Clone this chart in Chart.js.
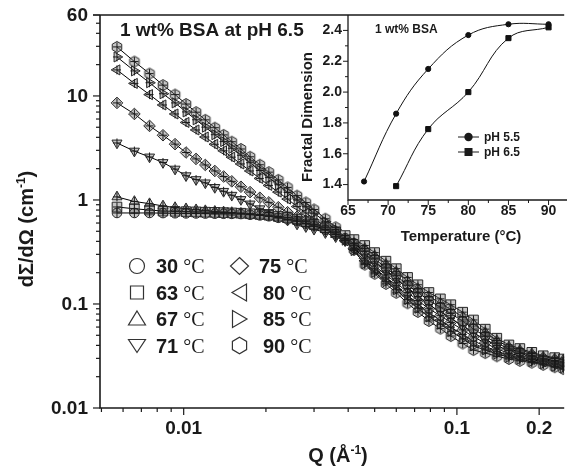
<!DOCTYPE html>
<html>
<head>
<meta charset="utf-8">
<title>SANS of BSA</title>
<script src="https://cdn.jsdelivr.net/npm/chart.js@4.4.1/dist/chart.umd.min.js"></script>
<style>
  html, body { margin: 0; padding: 0; background: #fff; }
  #wrap { position: relative; width: 572px; height: 475px; overflow: hidden; }
  #mainChart { position: absolute; left: 0; top: 0; }
  #insetChart { position: absolute; left: 290px; top: 0; }
</style>
</head>
<body>
<div id="wrap">
  <canvas id="mainChart" width="572" height="475"></canvas>
  <canvas id="insetChart" width="282" height="250"></canvas>
</div>
<script>
// Main plot data: Q (1/A) and dSigma/dOmega (1/cm) for each temperature
const temps = [30, 63, 67, 71, 75, 80, 85, 90];
const qValues = [0.0057, 0.0066, 0.0075, 0.0084, 0.0093, 0.0102, 0.0111, 0.0120, 0.0130, 0.0140,
    0.0150, 0.0162, 0.0175, 0.0190, 0.0205, 0.0222, 0.0240, 0.0260, 0.0280, 0.0300,
    0.0330, 0.0360, 0.0390, 0.0420, 0.0460, 0.0500, 0.0550, 0.0600, 0.0660, 0.0720,
    0.0790, 0.0870, 0.0950, 0.1050, 0.1150, 0.1270, 0.1400, 0.1550, 0.1700, 0.1880,
    0.2070, 0.2280, 0.2450];
const i30 = [0.750, 0.750, 0.750, 0.748, 0.745, 0.743, 0.742, 0.740, 0.738, 0.737,
    0.735, 0.732, 0.721, 0.710, 0.697, 0.674, 0.651, 0.627, 0.592, 0.559,
    0.518, 0.469, 0.428, 0.384, 0.321, 0.271, 0.222, 0.187, 0.152, 0.129,
    0.108, 0.0931, 0.0809, 0.0684, 0.0575, 0.0490, 0.0420, 0.0371, 0.0345, 0.0319,
    0.0298, 0.0286, 0.0277];
const i63 = [0.856, 0.823, 0.800, 0.782, 0.777, 0.772, 0.768, 0.763, 0.760, 0.756,
    0.751, 0.746, 0.737, 0.726, 0.714, 0.694, 0.676, 0.655, 0.618, 0.584,
    0.541, 0.494, 0.455, 0.416, 0.365, 0.312, 0.258, 0.2185, 0.180, 0.153,
    0.129, 0.112, 0.0984, 0.0834, 0.0702, 0.0573, 0.0469, 0.0404, 0.0373, 0.0343,
    0.0318, 0.0305, 0.0296];
const i67 = [1.07, 0.967, 0.921, 0.876, 0.845, 0.823, 0.805, 0.789, 0.777, 0.767,
    0.757, 0.745, 0.729, 0.713, 0.697, 0.674, 0.651, 0.627, 0.592, 0.559,
    0.518, 0.465, 0.421, 0.383, 0.342, 0.292, 0.241, 0.204, 0.166, 0.141,
    0.118, 0.102, 0.0885, 0.0751, 0.0642, 0.0533, 0.0445, 0.0388, 0.0361, 0.0334,
    0.0311, 0.0299, 0.0290];
const i71 = [3.53, 2.95, 2.59, 2.29, 1.98, 1.71, 1.57, 1.46, 1.32, 1.21,
    1.11, 1.01, 0.915, 0.823, 0.758, 0.697, 0.640, 0.587, 0.554, 0.523,
    0.485, 0.443, 0.407, 0.366, 0.301, 0.254, 0.208, 0.175, 0.141, 0.118,
    0.0982, 0.0843, 0.0727, 0.0616, 0.0526, 0.0457, 0.0398, 0.0356, 0.0334, 0.0311,
    0.0291, 0.0279, 0.0271];
const i75 = [8.57, 6.71, 5.15, 4.19, 3.44, 2.86, 2.48, 2.17, 1.90, 1.68,
    1.51, 1.34, 1.19, 1.05, 0.948, 0.851, 0.762, 0.689, 0.630, 0.576,
    0.515, 0.465, 0.408, 0.343, 0.276, 0.232, 0.1905, 0.160, 0.129, 0.108,
    0.0899, 0.0772, 0.0665, 0.0564, 0.0482, 0.0422, 0.0370, 0.0336, 0.0318, 0.0301,
    0.0284, 0.0270, 0.0259];
const i80 = [17.8, 13.2, 10.3, 8.19, 6.71, 5.56, 4.71, 4.03, 3.43, 2.97,
    2.58, 2.22, 1.90, 1.61, 1.38, 1.19, 1.02, 0.864, 0.750, 0.658,
    0.561, 0.484, 0.405, 0.336, 0.260, 0.218, 0.178, 0.150, 0.120, 0.0995,
    0.0821, 0.0699, 0.0598, 0.0509, 0.0441, 0.0393, 0.0351, 0.0323, 0.0308, 0.0293,
    0.0278, 0.0264, 0.0253];
const i85 = [23.7, 17.4, 13.4, 10.5, 8.57, 7.02, 5.90, 5.01, 4.24, 3.64,
    3.14, 2.69, 2.28, 1.92, 1.64, 1.40, 1.18, 1.00, 0.86, 0.746,
    0.617, 0.519, 0.411, 0.326, 0.244, 0.202, 0.164, 0.137, 0.110, 0.0911,
    0.0751, 0.0640, 0.0547, 0.0462, 0.0395, 0.0361, 0.0331, 0.0309, 0.0295, 0.0280,
    0.0266, 0.0252, 0.0243];
const i90 = [29.6, 21.4, 16.4, 12.7, 10.3, 8.36, 6.98, 5.89, 4.95, 4.22,
    3.63, 3.09, 2.60, 2.18, 1.85, 1.56, 1.32, 1.10, 0.946, 0.81,
    0.66, 0.546, 0.424, 0.331, 0.239, 0.195, 0.156, 0.128, 0.1016, 0.0838,
    0.0687, 0.0579, 0.0492, 0.0417, 0.0361, 0.0337, 0.0314, 0.0296, 0.0284, 0.0273,
    0.0260, 0.0247, 0.0237];
const qTicks = [0.01, 0.1, 0.2];
const iTicks = [0.01, 0.1, 1, 10, 60];

// Inset data: fractal dimension vs temperature
const temps55 = [67, 71, 75, 80, 85, 90];
const fd55 = [1.42, 1.86, 2.15, 2.37, 2.44, 2.44];
const temps65 = [71, 75, 80, 85, 90];
const fd65 = [1.39, 1.76, 2.00, 2.35, 2.42];
const tTicks = [65, 70, 75, 80, 85, 90];
const fdTicks = [1.4, 1.6, 1.8, 2.0, 2.2, 2.4];

const SANS = '"Liberation Sans", Arial, sans-serif';
const SERIF = '"Liberation Serif", "Times New Roman", serif';
const MARK_FILL = 'rgba(120,120,120,0.42)';
const MARK_EDGE = '#262626';

// hexagon marker (Chart.js has none)
function hexCanvas(r) {
    const c = document.createElement('canvas');
    const s = Math.ceil(r * 2 + 3);
    c.width = s; c.height = s;
    const g = c.getContext('2d');
    g.beginPath();
    for (let i = 0; i < 6; i++) {
        const a = -Math.PI / 2 + i * Math.PI / 3;
        const px = s / 2 + Math.cos(a) * r, py = s / 2 + Math.sin(a) * r;
        if (i === 0) g.moveTo(px, py); else g.lineTo(px, py);
    }
    g.closePath();
    g.fillStyle = MARK_FILL;
    g.fill();
    g.strokeStyle = MARK_EDGE;
    g.lineWidth = 1;
    g.stroke();
    return c;
}

const markerStyles = [
    { style: 'circle', rot: 0, r: 4.8 },
    { style: 'rect', rot: 0, r: 6.8 },
    { style: 'triangle', rot: 0, r: 5.8 },
    { style: 'triangle', rot: 180, r: 5.8 },
    { style: 'rectRot', rot: 0, r: 5.8 },
    { style: 'triangle', rot: 270, r: 5.8 },
    { style: 'triangle', rot: 90, r: 5.8 },
    { style: hexCanvas(5.5), rot: 0, r: 5 }
];

// write text made of parts (normal + superscript) centered on x
function drawParts(ctx, parts, cx, baseY) {
    let total = 0;
    parts.forEach(p => { ctx.font = p.font; p.w = ctx.measureText(p.text).width; total += p.w; });
    let x = cx - total / 2;
    parts.forEach(p => {
        ctx.font = p.font;
        ctx.fillText(p.text, x, baseY + (p.dy || 0));
        x += p.w;
    });
}

// legend symbol outlines
function legendSymbol(ctx, k, x, y) {
    ctx.beginPath();
    if (k === 0) {
        ctx.arc(x, y, 7.5, 0, Math.PI * 2);
    } else if (k === 1) {
        ctx.rect(x - 6.5, y - 6.5, 13, 13);
    } else {
        let pts;
        if (k === 2) pts = [[0, -8], [8.5, 6], [-8.5, 6]];
        if (k === 3) pts = [[-8.5, -6], [8.5, -6], [0, 7]];
        if (k === 4) pts = [[0, -8.5], [9, 0], [0, 8.5], [-9, 0]];
        if (k === 5) pts = [[-7.5, 0], [7, -8.5], [7, 8.5]];
        if (k === 6) pts = [[7.5, 0], [-7, -8.5], [-7, 8.5]];
        if (k === 7) {
            pts = [];
            for (let i = 0; i < 6; i++) {
                const a = -Math.PI / 2 + i * Math.PI / 3;
                pts.push([Math.cos(a) * 8.2, Math.sin(a) * 8.2]);
            }
        }
        pts.forEach((p, i) => i === 0 ? ctx.moveTo(x + p[0], y + p[1]) : ctx.lineTo(x + p[0], y + p[1]));
        ctx.closePath();
    }
    ctx.stroke();
}

const mainDecor = {
    id: 'mainDecor',
    beforeDraw(chart) {
        const ctx = chart.ctx;
        ctx.save();
        ctx.fillStyle = '#fff';
        ctx.fillRect(0, 0, chart.width, chart.height);
        ctx.restore();
    },
    afterDatasetsDraw(chart) {
        // error-bar crosses on every point
        const { ctx, chartArea: a } = chart;
        ctx.save();
        ctx.beginPath();
        ctx.rect(a.left, a.top, a.right - a.left, a.bottom - a.top);
        ctx.clip();
        ctx.strokeStyle = '#1a1a1a';
        ctx.lineWidth = 1;
        chart.data.datasets.forEach((ds, k) => {
            chart.getDatasetMeta(k).data.forEach(pt => {
                ctx.beginPath();
                ctx.moveTo(pt.x - 4, pt.y); ctx.lineTo(pt.x + 4, pt.y);
                ctx.moveTo(pt.x, pt.y - 4.5); ctx.lineTo(pt.x, pt.y + 4.5);
                ctx.stroke();
            });
        });
        ctx.restore();
    },
    afterDraw(chart) {
        const { ctx, chartArea: a, scales: { x, y } } = chart;
        ctx.save();
        ctx.strokeStyle = '#1a1a1a';
        ctx.fillStyle = '#1a1a1a';
        ctx.lineWidth = 1.6;
        ctx.beginPath();
        ctx.moveTo(a.left, a.top); ctx.lineTo(a.right, a.top);
        ctx.moveTo(a.left, a.top); ctx.lineTo(a.left, a.bottom); ctx.lineTo(a.right, a.bottom);
        ctx.stroke();

        // ticks
        ctx.lineWidth = 1.2;
        for (let d = -3; d <= 1; d++) {
            for (let m = 1; m <= 9; m++) {
                const v = m * Math.pow(10, d);
                if (v >= y.min * 0.999 && v <= y.max * 1.001) {
                    const py = y.getPixelForValue(v);
                    const len = (m === 1 || iTicks.includes(+v.toPrecision(3))) ? 7 : 4;
                    ctx.beginPath(); ctx.moveTo(a.left, py); ctx.lineTo(a.left - len, py); ctx.stroke();
                }
                if (v >= x.min * 0.999 && v <= x.max * 1.001) {
                    const px = x.getPixelForValue(v);
                    const len = (m === 1 || qTicks.includes(+v.toPrecision(3))) ? 7 : 4;
                    ctx.beginPath(); ctx.moveTo(px, a.bottom); ctx.lineTo(px, a.bottom + len); ctx.stroke();
                }
            }
        }
        // top tick at 60
        ctx.beginPath(); ctx.moveTo(a.left, y.getPixelForValue(60)); ctx.lineTo(a.left - 7, y.getPixelForValue(60)); ctx.stroke();

        ctx.font = 'bold 19px ' + SANS;
        ctx.textAlign = 'right';
        ctx.textBaseline = 'middle';
        iTicks.forEach(v => ctx.fillText(String(v), a.left - 12, y.getPixelForValue(v) + 1));
        ctx.textAlign = 'center';
        qTicks.forEach(v => ctx.fillText(String(v), x.getPixelForValue(v), a.bottom + 21));

        // title inside plot
        ctx.textAlign = 'left';
        ctx.textBaseline = 'alphabetic';
        ctx.font = 'bold 19px ' + SANS;
        ctx.fillText('1 wt% BSA at pH 6.5', 120, 36);

        // axis titles
        drawParts(ctx, [
            { text: 'Q (\u00C5', font: 'bold 20px ' + SANS },
            { text: '-1', font: 'bold 12px ' + SANS, dy: -8 },
            { text: ')', font: 'bold 20px ' + SANS }
        ], 338, 462);
        ctx.save();
        ctx.translate(33, 229);
        ctx.rotate(-Math.PI / 2);
        drawParts(ctx, [
            { text: 'd\u03A3/d\u03A9 (cm', font: 'bold 20px ' + SANS },
            { text: '-1', font: 'bold 12px ' + SANS, dy: -8 },
            { text: ')', font: 'bold 20px ' + SANS }
        ], 0, 0);
        ctx.restore();

        // legend, two columns
        const rows = [266, 292.5, 319, 345.5];
        ctx.strokeStyle = '#333';
        ctx.lineWidth = 1.2;
        temps.forEach((t, k) => {
            const col = Math.floor(k / 4), r = rows[k % 4];
            const sx = col === 0 ? 137 : 239.5;
            const tx = col === 0 ? 156 : (k === 4 ? 259 : 263);
            legendSymbol(ctx, k, sx, r);
            ctx.font = 'bold 20px ' + SANS;
            ctx.fillText(String(t), tx, r + 7);
            const w = ctx.measureText(String(t)).width;
            ctx.font = '20px ' + SERIF;
            ctx.fillText('\u00B0C', tx + w + 5, r + 7);
        });
        ctx.restore();
    }
};

const insetDecor = {
    id: 'insetDecor',
    afterDraw(chart) {
        const { ctx, chartArea: a, scales: { x, y } } = chart;
        ctx.save();
        ctx.strokeStyle = '#1a1a1a';
        ctx.fillStyle = '#1a1a1a';
        ctx.lineWidth = 1.3;
        ctx.beginPath();
        ctx.moveTo(a.left, a.top); ctx.lineTo(a.left, a.bottom); ctx.lineTo(a.right, a.bottom);
        ctx.stroke();
        ctx.lineWidth = 1;
        fdTicks.forEach(v => {
            const py = y.getPixelForValue(v);
            ctx.beginPath(); ctx.moveTo(a.left, py); ctx.lineTo(a.left - 5, py); ctx.stroke();
            const pm = y.getPixelForValue(v + 0.1);
            if (pm > a.top) { ctx.beginPath(); ctx.moveTo(a.left, pm); ctx.lineTo(a.left - 3, pm); ctx.stroke(); }
        });
        tTicks.forEach(v => {
            const px = x.getPixelForValue(v);
            ctx.beginPath(); ctx.moveTo(px, a.bottom); ctx.lineTo(px, a.bottom + 5); ctx.stroke();
            const pm = x.getPixelForValue(v + 2.5);
            if (pm < a.right) { ctx.beginPath(); ctx.moveTo(pm, a.bottom); ctx.lineTo(pm, a.bottom + 3); ctx.stroke(); }
        });
        ctx.font = 'bold 14px ' + SANS;
        ctx.textAlign = 'right';
        ctx.textBaseline = 'middle';
        fdTicks.forEach(v => ctx.fillText(v.toFixed(1), a.left - 6, y.getPixelForValue(v)));
        ctx.textAlign = 'center';
        tTicks.forEach(v => ctx.fillText(String(v), x.getPixelForValue(v), a.bottom + 11));

        ctx.font = 'bold 15px ' + SANS;
        ctx.fillText('Temperature (\u00B0C)', 171, 237);
        ctx.save();
        ctx.translate(18, 117);
        ctx.rotate(-Math.PI / 2);
        ctx.fillText('Fractal Dimension', 0, 0);
        ctx.restore();

        ctx.textAlign = 'left';
        ctx.font = 'bold 12px ' + SANS;
        ctx.fillText('1 wt% BSA', 85, 30);

        // legend
        const items = [['pH 5.5', 'circle', 137], ['pH 6.5', 'square', 152]];
        items.forEach(([txt, kind, ly]) => {
            ctx.beginPath(); ctx.moveTo(168, ly); ctx.lineTo(189, ly); ctx.stroke();
            ctx.beginPath();
            if (kind === 'circle') ctx.arc(178.5, ly, 4.2, 0, Math.PI * 2);
            else ctx.rect(174.5, ly - 4, 8, 8);
            ctx.fill();
            ctx.fillText(txt, 194, ly + 1);
        });
        ctx.restore();
    }
};

document.addEventListener('DOMContentLoaded', function() {
    if (typeof Chart === 'undefined') {
        console.error('Chart.js is not loaded!');
        return;
    }
    try {
        const series = [i30, i63, i67, i71, i75, i80, i85, i90];
        const mainCtx = document.getElementById('mainChart');
        new Chart(mainCtx.getContext('2d'), {
            type: 'scatter',
            data: {
                datasets: series.map((vals, k) => ({
                    label: temps[k] + ' \u00B0C',
                    data: qValues.map((q, j) => ({ x: q, y: vals[j] })),
                    showLine: true,
                    borderColor: '#000',
                    borderWidth: 1,
                    tension: 0,
                    pointStyle: markerStyles[k].style,
                    pointRotation: markerStyles[k].rot,
                    pointRadius: markerStyles[k].r,
                    pointBorderColor: MARK_EDGE,
                    pointBackgroundColor: MARK_FILL,
                    pointBorderWidth: 1
                }))
            },
            options: {
                responsive: false,
                animation: false,
                devicePixelRatio: 1,
                layout: { padding: { left: 100, right: 0, top: 15, bottom: 67 } },
                scales: {
                    x: { type: 'logarithmic', min: 0.00494, max: 0.247, display: false },
                    y: { type: 'logarithmic', min: 0.01, max: 60, display: false }
                },
                plugins: { legend: { display: false }, tooltip: { enabled: false } }
            },
            plugins: [mainDecor]
        });

        const insetCtx = document.getElementById('insetChart');
        new Chart(insetCtx.getContext('2d'), {
            type: 'scatter',
            data: {
                datasets: [{
                    label: 'pH 5.5',
                    data: temps55.map((t, j) => ({ x: t, y: fd55[j] })),
                    showLine: true,
                    tension: 0.4,
                    borderColor: '#111',
                    borderWidth: 1,
                    pointStyle: 'circle',
                    pointRadius: 2.6,
                    pointBackgroundColor: '#111',
                    pointBorderColor: '#111'
                }, {
                    label: 'pH 6.5',
                    data: temps65.map((t, j) => ({ x: t, y: fd65[j] })),
                    showLine: true,
                    tension: 0.4,
                    borderColor: '#111',
                    borderWidth: 1,
                    pointStyle: 'rect',
                    pointRadius: 3.6,
                    pointBackgroundColor: '#111',
                    pointBorderColor: '#111'
                }]
            },
            options: {
                responsive: false,
                animation: false,
                devicePixelRatio: 1,
                layout: { padding: { left: 58, right: 0, top: 15, bottom: 50 } },
                scales: {
                    x: { type: 'linear', min: 65, max: 92.3, display: false },
                    y: { type: 'linear', min: 1.3, max: 2.5, display: false }
                },
                plugins: { legend: { display: false }, tooltip: { enabled: false } }
            },
            plugins: [insetDecor]
        });
    } catch (error) {
        console.error('Error initializing charts:', error);
    }
});
</script>
</body>
</html>
